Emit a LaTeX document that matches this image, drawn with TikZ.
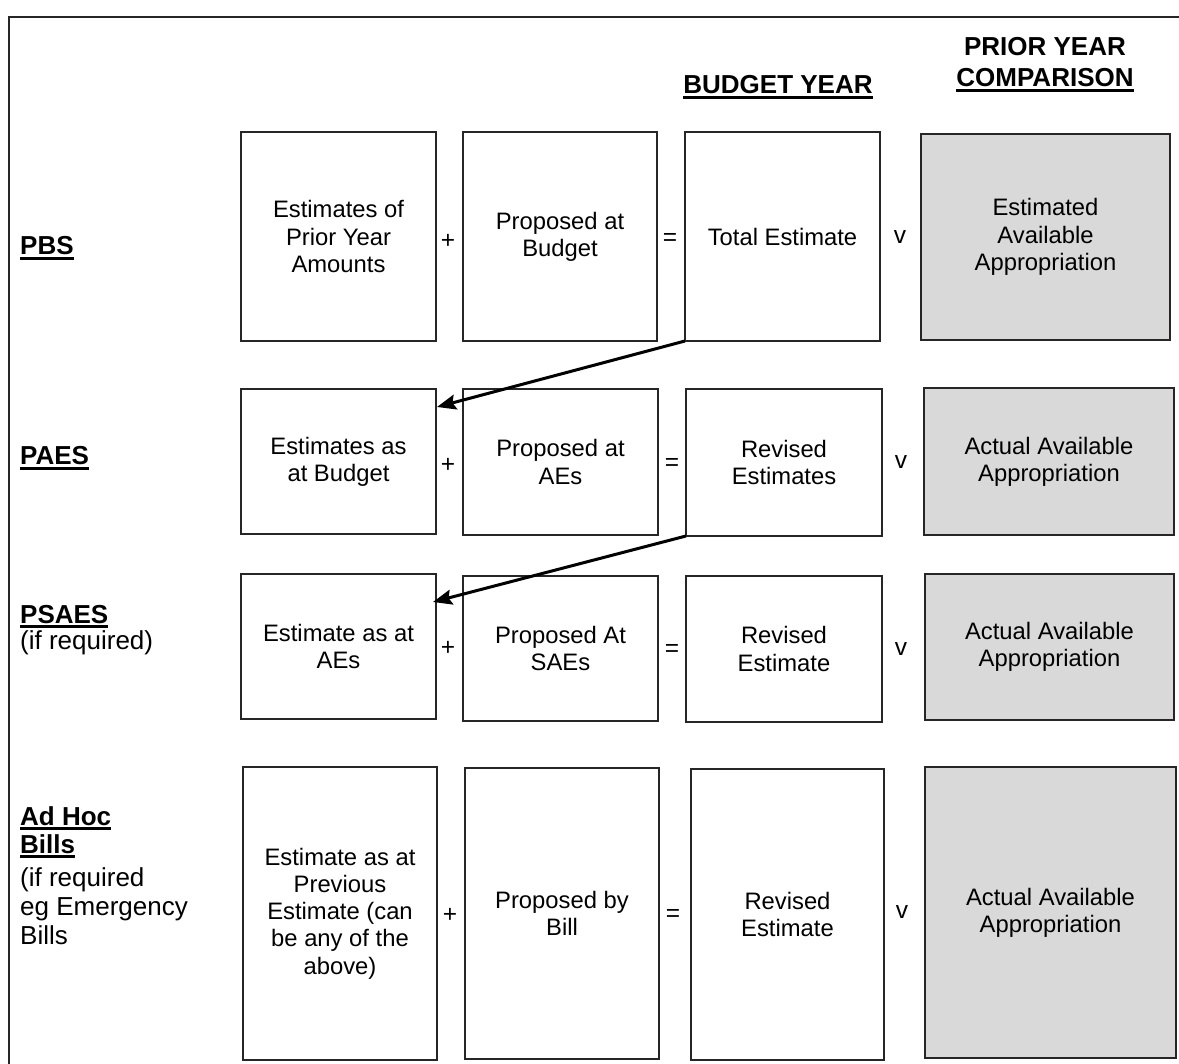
\documentclass[tikz,border=0pt]{standalone}
\usepackage{fontspec}
\setmainfont{Liberation Sans}
\usetikzlibrary{arrows.meta}
\definecolor{boxgray}{HTML}{D9D9D9}
\newcommand\myul[1]{\setbox0\hbox{#1}\rlap{\vrule width\wd0 height -2pt depth 4.6pt}\box0}
\newcommand\mybox[7]{\node[bx,#7,minimum width={#4pt-#2pt},minimum height={#5pt-#3pt}] (#1) at ({(#2+#4)/2},{(#3+#5)/2}) {#6};}
\tikzset{
  bx/.style={draw=black!85,line width=1.5pt,inner sep=0pt,outer sep=0pt,align=center,
    font=\fontsize{23.8}{27.3}\selectfont},
  graybx/.style={fill=boxgray},
  op/.style={inner sep=0pt,font=\fontsize{24.5}{27.3}\selectfont},
  lbl/.style={anchor=base west,inner sep=0pt,font=\fontsize{26}{30}\selectfont},
  hdr/.style={anchor=base,inner sep=0pt,font=\fontsize{26}{30}\selectfont\bfseries},
  arr/.style={line width=3pt,-{Stealth[length=19pt,width=15pt,inset=3pt]}}
}
\begin{document}
\begin{tikzpicture}[x=1pt,y=-1pt]
\useasboundingbox (0,0) rectangle (1179,1064);
% frame
\draw[line width=2pt,black!85] (9,1064) -- (9,17) -- (1179,17);
% headers
\node[hdr] (hby) at (778,94) {\myul{BUDGET YEAR}};
\node[hdr] (hpy) at (1045,56) {PRIOR YEAR};
\node[hdr] (hcmp) at (1045,87) {\myul{COMPARISON}};
% row labels
\node[lbl] (lpbs) at (20,255) {\bfseries\myul{PBS}};
\node[lbl] (lpaes) at (20,465) {\bfseries\myul{PAES}};
\node[lbl] (lpsaes) at (20,623) {\bfseries\myul{PSAES}};
\node[lbl] (lpsaes2) at (20,649) {(if required)};
\node[lbl] (lah1) at (20,825) {\bfseries\myul{Ad Hoc}};
\node[lbl] (lah2) at (20,853) {\bfseries\myul{Bills}};
\node[lbl] (lah3) at (20,886) {(if required};
\node[lbl] (lah4) at (20,915) {eg Emergency};
\node[lbl] (lah5) at (20,944) {Bills};
% row 1
\mybox{A1}{241}{132}{436}{341}{Estimates of\\Prior Year\\Amounts}{}
\mybox{B1}{463}{132}{657}{341}{Proposed at\\Budget}{}
\mybox{C1}{685}{132}{880}{341}{Total Estimate}{}
\mybox{D1}{921}{134}{1170}{340}{Estimated\\Available\\Appropriation}{graybx}
\node[op] (p1) at (448,241) {+};
\node[op] (e1) at (670,239) {=};
\node[op] (v1) at (900,237) {v};
% row 2
\mybox{A2}{241}{389}{436}{534}{Estimates as\\at Budget}{}
\mybox{B2}{463}{389}{658}{535}{Proposed at\\AEs}{}
\mybox{C2}{686}{389}{882}{536}{Revised\\Estimates}{}
\mybox{D2}{924}{388}{1174}{535}{Actual Available\\Appropriation}{graybx}
\node[op] (p2) at (448,465) {+};
\node[op] (e2) at (672,464) {=};
\node[op] (v2) at (901,462) {v};
% row 3
\mybox{A3}{241}{574}{436}{719}{Estimate as at\\AEs}{}
\mybox{B3}{463}{576}{658}{721}{Proposed At\\SAEs}{}
\mybox{C3}{686}{576}{882}{722}{Revised\\Estimate}{}
\mybox{D3}{925}{574}{1174}{720}{Actual Available\\Appropriation}{graybx}
\node[op] (p3) at (448,648) {+};
\node[op] (e3) at (672,650) {=};
\node[op] (v3) at (901,649) {v};
% row 4
\mybox{A4}{243}{767}{437}{1060}{Estimate as at\\Previous\\Estimate (can\\be any of the\\above)}{}
\mybox{B4}{465}{768}{659}{1059}{Proposed by\\Bill}{}
\mybox{C4}{691}{769}{884}{1060}{Revised\\Estimate}{}
\mybox{D4}{925}{767}{1176}{1058}{Actual Available\\Appropriation}{graybx}
\node[op] (p4) at (450,915) {+};
\node[op] (e4) at (673,915) {=};
\node[op] (v4) at (902,912) {v};
% arrows
\coordinate (t1) at (437,407);
\coordinate (t2) at (433,602);
\draw[arr] (C1.south west) -- (t1);
\draw[arr] (C2.south west) -- (t2);
\end{tikzpicture}
\end{document}
